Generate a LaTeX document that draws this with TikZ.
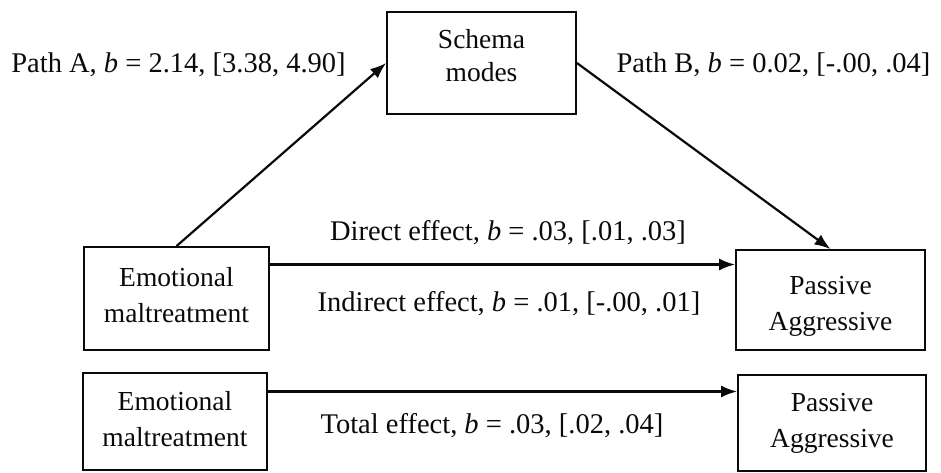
\documentclass[tikz,border=0pt]{standalone}
\usepackage{fontspec}
\setmainfont{Liberation Serif}
\usepackage{tikz}
\usetikzlibrary{arrows.meta,calc}
\definecolor{inkblack}{RGB}{10,10,10}

\begin{document}
\begin{tikzpicture}[x=1pt, y=-1pt,
    varbox/.style={draw=inkblack, line width=1.8pt, inner sep=0pt},
    boxtext/.style={align=center, text=inkblack, font=\fontsize{27.5}{36}\selectfont},
    effect/.style={font=\fontsize{28.5}{32}\selectfont, text=inkblack, inner sep=0pt},
    patharrow/.style={draw=inkblack, line width=2.2pt, -{Latex[length=16pt,width=12pt]}}]
    \useasboundingbox (0,0) rectangle (941,472);

    % Variables
    \node[varbox, minimum width=189pt, minimum height=102pt,
        label={[boxtext, font=\fontsize{27.5}{33}\selectfont, yshift=7pt]center:Schema\\modes}] (schema) at (481.5,63) {};
    \node[varbox, minimum width=185pt, minimum height=103pt,
        label={[boxtext, yshift=3pt]center:Emotional\\maltreatment}] (emoA) at (176.5,298.5) {};
    \node[varbox, minimum width=189pt, minimum height=100pt,
        label={[boxtext, yshift=-6pt]center:Passive\\Aggressive}] (passA) at (830.5,300) {};
    \node[varbox, minimum width=184pt, minimum height=97pt,
        label={[boxtext, yshift=2pt]center:Emotional\\maltreatment}] (emoB) at (175,421.5) {};
    \node[varbox, minimum width=188pt, minimum height=96pt,
        label={[boxtext]center:Passive\\Aggressive}] (passB) at (832,423) {};

    % Paths
    \draw[patharrow] (emoA.north) -- (schema.west);
    \draw[patharrow] (schema.east) -- (passA.north);
    \draw[patharrow] ([yshift=34pt]emoA.east) -- ([yshift=34pt]emoA.east -| passA.west);
    \draw[patharrow] ([yshift=30pt]emoB.east) -- ([yshift=30pt]emoB.east -| passB.west);

    % Effect labels
    \node[effect] (pathA) at (178.5,65) {Path A, \textit{b} = 2.14, [3.38, 4.90]};
    \node[effect] (pathB) at (773.5,65) {Path B, \textit{b} = 0.02, [-.00, .04]};
    \node[effect] (direct) at (508,233) {Direct effect, \textit{b} = .03, [.01, .03]};
    \node[effect] (indirect) at (509,304) {Indirect effect, \textit{b} = .01, [-.00, .01]};
    \node[effect] (total) at (492,426) {Total effect, \textit{b} = .03, [.02, .04]};
\end{tikzpicture}
\end{document}
